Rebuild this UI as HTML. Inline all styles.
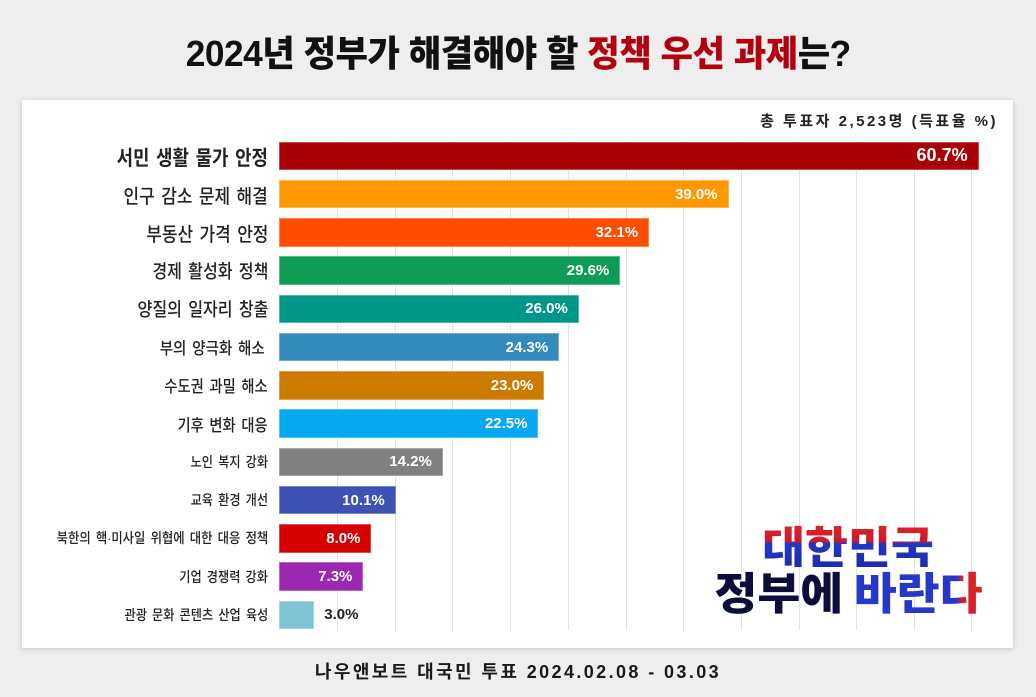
<!DOCTYPE html>
<html><head><meta charset="utf-8">
<style>
html,body{margin:0;padding:0;}
body{width:1036px;height:697px;overflow:hidden;background:#eeeeee;position:relative;font-family:"Liberation Sans","Noto Sans CJK KR",sans-serif;}
.card{position:absolute;left:22px;top:100px;width:991px;height:548px;background:#fff;box-shadow:0 1px 5px rgba(0,0,0,0.18);}
.title{position:absolute;left:0;width:1036px;top:30px;text-align:center;font-family:"Liberation Sans","Noto Sans CJK KR",sans-serif;font-weight:900;font-size:36px;line-height:48px;color:#111;letter-spacing:-0.5px;white-space:nowrap;}
.title span.in{display:inline-block;transform:scaleX(0.98);transform-origin:center;}
.red{color:#b3000f;}
.total{position:absolute;right:38px;top:112px;font-family:"Liberation Sans","Noto Sans CJK KR",sans-serif;font-weight:700;font-size:15px;line-height:20px;letter-spacing:2.5px;color:#222;white-space:nowrap;}
.grid{position:absolute;top:141px;height:489px;width:1px;background:#e2e2e2;}
.bar{position:absolute;left:279.3px;height:28.5px;box-sizing:border-box;border:1px solid rgba(255,255,255,0.3);}
.val{position:absolute;right:10px;top:0;height:100%;display:flex;align-items:center;font-family:"Liberation Sans",sans-serif;font-weight:700;font-size:15px;color:#fff;white-space:nowrap;}
.lab{position:absolute;right:768px;height:28.5px;display:flex;align-items:center;justify-content:flex-end;white-space:nowrap;font-family:"Liberation Sans","Noto Sans CJK KR",sans-serif;font-weight:500;color:#222;word-spacing:2px;transform:scaleX(0.87);transform-origin:right center;}
.logo{position:absolute;left:648px;width:400px;text-align:center;font-family:"Noto Sans CJK KR",sans-serif;font-weight:900;font-size:44px;line-height:46px;white-space:nowrap;}
.l1{top:521px;}
.l2{top:567px;}
.l1 span{display:inline-block;line-height:46px;height:46px;transform:scaleX(1.06);background:linear-gradient(to bottom,#e3262b 0px,#c91c2a 20px,#2536c4 23px,#1d2caa 46px);-webkit-background-clip:text;background-clip:text;color:transparent;}
.l2 .in{display:inline-block;transform:scaleX(1.06);}
.navy{color:#0b0e3c;}
.blue{color:#2538c8;}
.da{background:linear-gradient(to right,#2538c8 0%,#2538c8 40%,#d8222b 50%,#d8222b 100%);-webkit-background-clip:text;background-clip:text;color:transparent;}
.footer{position:absolute;left:0;width:1036px;top:660px;text-align:center;font-family:"Liberation Sans","Noto Sans CJK KR",sans-serif;font-weight:700;font-size:18px;line-height:24px;letter-spacing:2.4px;color:#1a1a1a;white-space:nowrap;}
</style></head><body>
<div class="title"><span class="in">2024년 정부가 해결해야 할 <span class="red">정책 우선 과제</span>는?</span></div>
<div class="card"></div>
<div class="total">총 투표자 2,523명 (득표율 %)</div>

<div class="grid" style="left:337px"></div>
<div class="grid" style="left:394.7px"></div>
<div class="grid" style="left:452.4px"></div>
<div class="grid" style="left:510.1px"></div>
<div class="grid" style="left:567.8px"></div>
<div class="grid" style="left:625.5px"></div>
<div class="grid" style="left:683.2px"></div>
<div class="grid" style="left:740.9px"></div>
<div class="grid" style="left:798.6px"></div>
<div class="grid" style="left:856.3px"></div>
<div class="grid" style="left:914px"></div>
<div class="grid" style="left:971px"></div>

<div class="bar" style="top:141.7px;width:699.3px;background:#aa0008"><div class="val" style="font-size:18px">60.7%</div></div>
<div class="bar" style="top:179.95px;width:449.3px;background:#ff9800"><div class="val">39.0%</div></div>
<div class="bar" style="top:218.2px;width:369.8px;background:#ff4d00"><div class="val">32.1%</div></div>
<div class="bar" style="top:256.45px;width:341px;background:#0e9c55"><div class="val">29.6%</div></div>
<div class="bar" style="top:294.7px;width:299.5px;background:#009688"><div class="val">26.0%</div></div>
<div class="bar" style="top:332.95px;width:279.9px;background:#3489bd"><div class="val">24.3%</div></div>
<div class="bar" style="top:371.2px;width:265px;background:#cc7a00"><div class="val">23.0%</div></div>
<div class="bar" style="top:409.45px;width:259.2px;background:#07a8f2"><div class="val">22.5%</div></div>
<div class="bar" style="top:447.7px;width:163.6px;background:#808080"><div class="val">14.2%</div></div>
<div class="bar" style="top:485.95px;width:116.4px;background:#3f51b5"><div class="val">10.1%</div></div>
<div class="bar" style="top:524.2px;width:92.2px;background:#d50000"><div class="val">8.0%</div></div>
<div class="bar" style="top:562.45px;width:84.1px;background:#9c27b0"><div class="val">7.3%</div></div>
<div class="bar" style="top:600.7px;width:34.6px;background:#80c4d4"><div class="val" style="right:auto;left:44px;color:#222">3.0%</div></div>

<div class="lab" style="top:141.7px;font-size:20.5px;font-weight:700">서민 생활 물가 안정</div>
<div class="lab" style="top:179.95px;font-size:19.5px">인구 감소 문제 해결</div>
<div class="lab" style="top:218.2px;font-size:19.5px">부동산 가격 안정</div>
<div class="lab" style="top:256.45px;font-size:18.5px">경제 활성화 정책</div>
<div class="lab" style="top:294.7px;font-size:18.5px">양질의 일자리 창출</div>
<div class="lab" style="top:332.95px;font-size:16.7px;right:771px">부의 양극화 해소</div>
<div class="lab" style="top:371.2px;font-size:16.4px">수도권 과밀 해소</div>
<div class="lab" style="top:409.45px;font-size:16.4px">기후 변화 대응</div>
<div class="lab" style="top:447.7px;font-size:14px">노인 복지 강화</div>
<div class="lab" style="top:485.95px;font-size:14px">교육 환경 개선</div>
<div class="lab" style="top:524.2px;font-size:14.2px">북한의 핵·미사일 위협에 대한 대응 정책</div>
<div class="lab" style="top:562.45px;font-size:14px">기업 경쟁력 강화</div>
<div class="lab" style="top:600.7px;font-size:14px">관광 문화 콘텐츠 산업 육성</div>

<div class="logo l1"><span>대한민국</span></div>
<div class="logo l2"><span class="in"><span class="navy">정부에</span> <span class="blue">바란</span><span class="da">다</span></span></div>

<div class="footer">나우앤보트 대국민 투표 2024.02.08 - 03.03</div>
</body></html>
